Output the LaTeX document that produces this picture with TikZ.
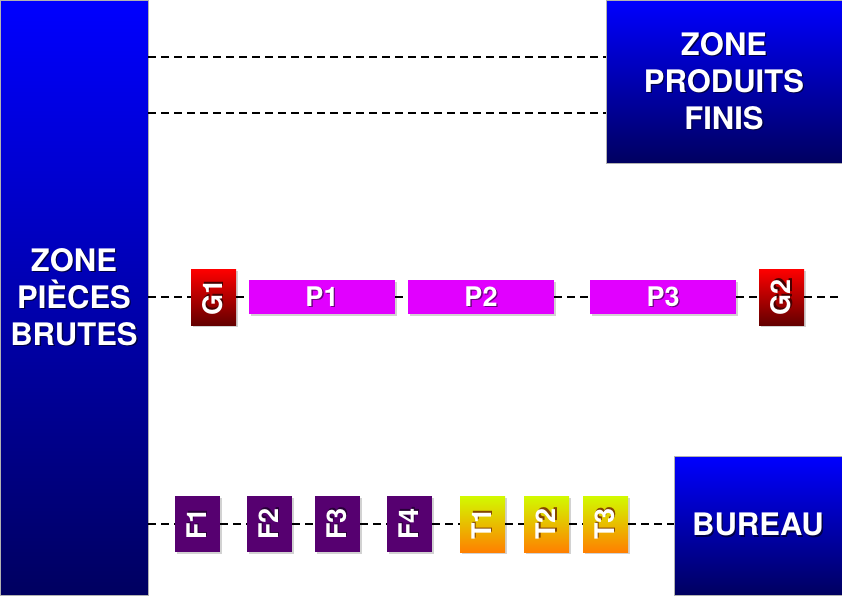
\documentclass[tikz,border=0pt]{standalone}
\usepackage{fontspec}
\setmainfont{TeX Gyre Heros}
\usetikzlibrary{shadows}
\definecolor{zonetop}{RGB}{0,0,255}
\definecolor{zonebot}{RGB}{0,0,96}
\definecolor{zoneshd}{RGB}{0,0,70}
\definecolor{gtop}{RGB}{255,0,0}
\definecolor{gbot}{RGB}{100,0,0}
\definecolor{gshd}{RGB}{70,0,0}
\definecolor{pfill}{RGB}{225,0,255}
\definecolor{pshd}{RGB}{110,0,130}
\definecolor{ffill}{RGB}{86,0,112}
\definecolor{fshd}{RGB}{40,0,55}
\definecolor{ttop}{RGB}{210,250,0}
\definecolor{tbot}{RGB}{255,128,0}
\definecolor{tshd}{RGB}{130,70,0}
\newcommand\shd[2]{\leavevmode\rlap{\kern1.3pt\raisebox{-1.3pt}{\textcolor{#1}{#2}}}#2}
\begin{document}
\begin{tikzpicture}[x=1pt,y=-1pt,
  zonebox/.style={inner sep=0pt, text=white, font=\fontsize{31}{37}\selectfont\bfseries,
    align=center, top color=zonetop, bottom color=zonebot, draw=gray!60, line width=0.6pt},
  gbox/.style={inner sep=0pt, minimum width=45pt, minimum height=56pt, text=white,
    font=\fontsize{27}{30}\selectfont\bfseries, top color=gtop, bottom color=gbot,
    drop shadow={opacity=0.35, shadow xshift=2pt, shadow yshift=-2pt}},
  pbox/.style={inner sep=0pt, minimum width=146pt, minimum height=34pt, text=white,
    font=\fontsize{27}{30}\selectfont\bfseries, fill=pfill,
    drop shadow={opacity=0.35, shadow xshift=2pt, shadow yshift=-2pt}},
  fbox/.style={inner sep=0pt, minimum width=45pt, minimum height=56pt, text=white,
    font=\fontsize{27}{30}\selectfont\bfseries, fill=ffill,
    drop shadow={opacity=0.35, shadow xshift=2pt, shadow yshift=-2pt}},
  tbox/.style={inner sep=0pt, minimum width=45pt, minimum height=56pt, text=white,
    font=\fontsize{27}{30}\selectfont\bfseries, top color=ttop, bottom color=tbot,
    drop shadow={opacity=0.35, shadow xshift=2pt, shadow yshift=-2pt}},
  link/.style={line width=1.3pt, dash pattern=on 8pt off 5pt, black}
]
\useasboundingbox (0,0) rectangle (842,595);
\fill[white] (0,0) rectangle (842,595);

% zones
\node[zonebox, minimum width=148pt, minimum height=595pt] (zl) at (74,297.5)
  {\shd{zoneshd}{ZONE}\\\shd{zoneshd}{PIÈCES}\\\shd{zoneshd}{BRUTES}};
\node[zonebox, minimum width=236pt, minimum height=163pt] (zpf) at (724,81.5)
  {\shd{zoneshd}{ZONE}\\\shd{zoneshd}{PRODUITS}\\\shd{zoneshd}{FINIS}};
\node[zonebox, minimum width=168pt, minimum height=139pt] (bur) at (758,525.5)
  {\shd{zoneshd}{BUREAU}};

% middle row
\node[gbox] (g1) at (213.5,297) {\rotatebox{90}{\shd{gshd}{G1}}};
\node[pbox] (p1) at (322,297) {\shd{pshd}{P1}};
\node[pbox] (p2) at (481,297) {\shd{pshd}{P2}};
\node[pbox] (p3) at (663,297) {\shd{pshd}{P3}};
\node[gbox] (g2) at (781.5,297) {\rotatebox{90}{\shd{gshd}{G2}}};
\coordinate (mend) at (842,297);

% bottom row
\node[fbox] (f1) at (197.5,524) {\rotatebox{90}{\shd{fshd}{F1}}};
\node[fbox] (f2) at (269.5,524) {\rotatebox{90}{\shd{fshd}{F2}}};
\node[fbox] (f3) at (337.5,524) {\rotatebox{90}{\shd{fshd}{F3}}};
\node[fbox] (f4) at (409.5,524) {\rotatebox{90}{\shd{fshd}{F4}}};
\node[tbox] (t1) at (482.5,524) {\rotatebox{90}{\shd{tshd}{T1}}};
\node[tbox] (t2) at (546.5,524) {\rotatebox{90}{\shd{tshd}{T2}}};
\node[tbox] (t3) at (605.5,524) {\rotatebox{90}{\shd{tshd}{T3}}};

% top dashed lines
\draw[link] (zl.east |- 0,57) -- (zpf.west |- 0,57);
\draw[link] (zl.east |- 0,113) -- (zpf.west |- 0,113);

% middle dashed line
\draw[link] (zl.east |- g1) -- (g1);
\draw[link] (g1) -- (p1);
\draw[link] (p1) -- (p2);
\draw[link] (p2) -- (p3);
\draw[link] (p3) -- (g2);
\draw[link] (g2) -- (mend);

% bottom dashed line
\draw[link] (zl.east |- f1) -- (f1);
\draw[link] (f1) -- (f2);
\draw[link] (f2) -- (f3);
\draw[link] (f3) -- (f4);
\draw[link] (f4) -- (t1);
\draw[link] (t1) -- (t2);
\draw[link] (t2) -- (t3);
\draw[link] (t3) -- (bur.west |- t3);
\end{tikzpicture}
\end{document}
